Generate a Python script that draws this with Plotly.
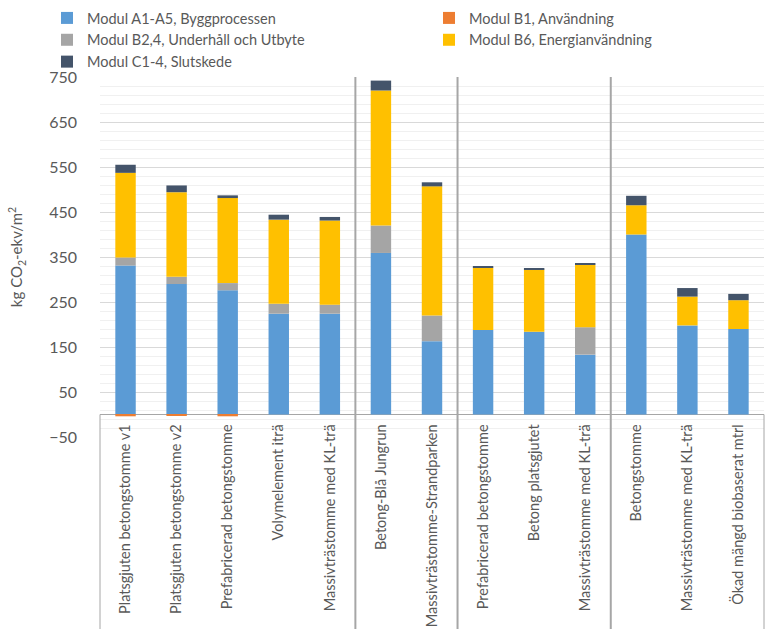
import plotly.graph_objects as go

groups = [
    ["Platsgjuten betongstomme v1", "Platsgjuten betongstomme v2", "Prefabricerad betongstomme",
     "Volymelement iträ", "Massivträstomme med KL-trä"],
    ["Betong-Blå Jungrun", "Massivträstomme-Strandparken"],
    ["Prefabricerad betongstomme", "Betong platsgjutet", "Massivträstomme med KL-trä"],
    ["Betongstomme", "Massivträstomme med KL-trä", "Ökad mängd biobaserat mtrl"],
]
categories = [c for g in groups for c in g]

series_names = [
    "Modul A1-A5, Byggprocessen",
    "Modul B1, Användning",
    "Modul B2,4, Underhåll och Utbyte",
    "Modul B6, Energianvändning",
    "Modul C1-4, Slutskede",
]
a1_a5 = [331, 290, 276, 224, 224, 359, 163, 188, 184, 133, 400, 198, 190]
b1 = [-4, -3, -4, 0, 0, 0, 0, 0, 0, 0, 0, 0, 0]
b2_4 = [18, 16, 16, 22, 20, 61, 57, 0, 0, 61, 0, 0, 0]
b6 = [188, 188, 189, 187, 187, 300, 287, 138, 138, 139, 65, 64, 64]
c1_4 = [18, 15, 6, 11, 8, 22, 9, 4, 3, 2, 21, 19, 14]
series_values = [a1_a5, b1, b2_4, b6, c1_4]
colors = ["#5B9BD5", "#ED7D31", "#A5A5A5", "#FFC000", "#44546A"]

y_min, y_max = -50, 750
y_major = 100
y_minor = 20
y_ticks = list(range(y_min, y_max + 1, y_major))

FONT = "Lato"
TXT = "#595959"

x = list(range(len(categories)))

fig = go.Figure()
for name, vals, col in zip(series_names, series_values, colors):
    fig.add_trace(go.Bar(x=x, y=vals, name=name, marker=dict(color=col, line=dict(width=0))))

W, H = 776, 629
ml, mr, mt, mb = 100, 12, 77, 192
plot_w = W - ml - mr
plot_h = H - mt - mb
bottom_paper = -mb / plot_h
zero_paper = (0 - y_min) / (y_max - y_min)

n = len(categories)
shapes = []
sep_color = "#A6A6A6"
pos = 0
for g in groups[:-1]:
    pos += len(g)
    shapes.append(dict(type="line", xref="paper", yref="paper", x0=pos / n, x1=pos / n,
                       y0=bottom_paper, y1=1, line=dict(color=sep_color, width=2)))
for xe in (0, 1):
    shapes.append(dict(type="line", xref="paper", yref="paper", x0=xe, x1=xe,
                       y0=bottom_paper, y1=zero_paper, line=dict(color=sep_color, width=1)))

fig.update_layout(
    width=W, height=H,
    margin=dict(l=ml, r=mr, t=mt, b=mb, pad=0, autoexpand=False),
    barmode="relative",
    bargap=0.6,
    plot_bgcolor="white",
    paper_bgcolor="white",
    font=dict(family=FONT, color=TXT),
    shapes=shapes,
    legend=dict(
        orientation="h",
        x=(47 - ml) / plot_w, xanchor="left",
        y=1 + (mt - 2) / plot_h, yanchor="top",
        entrywidth=337, entrywidthmode="pixels",
        font=dict(family=FONT, size=14.5, color=TXT),
        bgcolor="rgba(0,0,0,0)",
        traceorder="normal",
        itemclick=False,
    ),
    xaxis=dict(
        tickmode="array", tickvals=x, ticktext=categories,
        tickangle=-90,
        range=[-0.5, n - 0.5],
        anchor="free", position=zero_paper,
        showline=False, showgrid=False, zeroline=False,
        ticks="", ticklabelstandoff=6,
        tickfont=dict(family=FONT, size=14.5, color=TXT),
    ),
    yaxis=dict(
        range=[y_min, y_max],
        tickmode="array", tickvals=y_ticks,
        showgrid=True, gridcolor="#D9D9D9", gridwidth=1,
        minor=dict(tick0=y_min, dtick=y_minor, showgrid=True, gridcolor="#F0F0F0", gridwidth=1),
        zeroline=True, zerolinecolor=sep_color, zerolinewidth=1,
        showline=False, ticks="", ticklabelstandoff=22,
        tickfont=dict(family=FONT, size=16, color=TXT),
        title=dict(text="kg CO<sub>2</sub>-ekv/m<sup>2</sup>", font=dict(family=FONT, size=15, color=TXT), standoff=22),
    ),
)

fig.write_html("out.html", config={"displayModeBar": False},
               post_script="document.body.style.margin='0';")
